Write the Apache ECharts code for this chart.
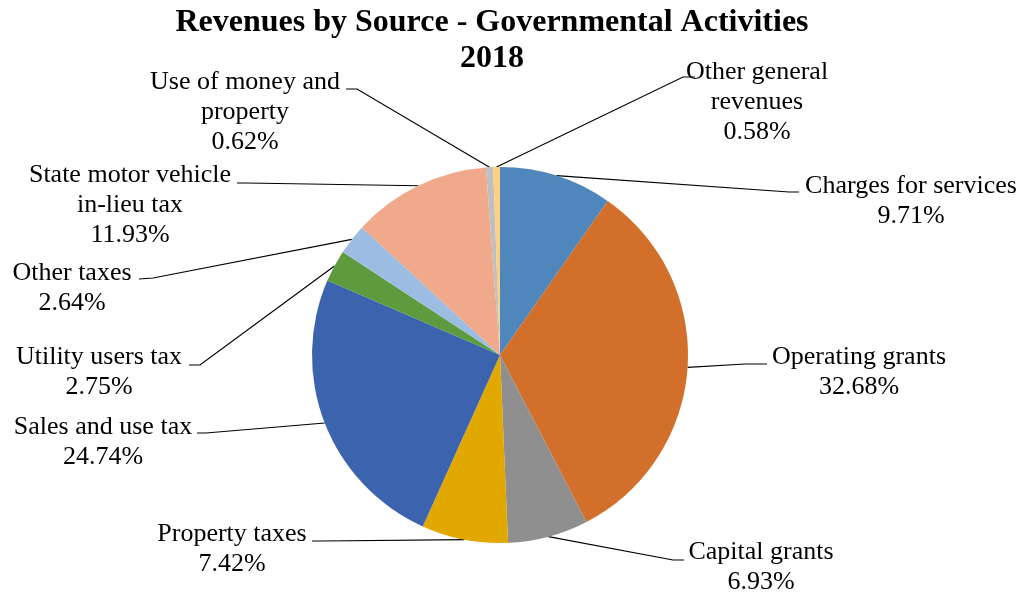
<!DOCTYPE html>
<html>
<head>
<meta charset="utf-8">
<title>Revenues by Source - Governmental Activities 2018</title>
<script src="https://cdn.jsdelivr.net/npm/echarts@6/dist/echarts.min.js"></script>
<style>
  html, body { margin: 0; padding: 0; background: #ffffff; }
  #chart { width: 1023px; height: 596px; }
</style>
</head>
<body>
<div id="chart"></div>
<script>
// Revenue categories, clockwise from 12 o'clock
const categories = [
  'Charges for services',
  'Operating grants',
  'Capital grants',
  'Property taxes',
  'Sales and use tax',
  'Utility users tax',
  'Other taxes',
  'State motor vehicle\nin-lieu tax',
  'Use of money and\nproperty',
  'Other general\nrevenues'
];

// Share of total revenue (%)
const shares = [9.71, 32.68, 6.93, 7.42, 24.74, 2.75, 2.64, 11.93, 0.62, 0.58];

const sliceColors = [
  '#4f87bd', '#d2702b', '#8f8f8f', '#e1a800', '#3c63ad',
  '#5e9b3e', '#9dbce1', '#f0a98a', '#bfbfbf', '#fecf7e'
];

// Label placement: text anchor (centre x, top y) and leader-line bend/end points
const labelSpots = [
  { x: 911, y: 171, bend: [789, 192], end: [799, 192] },
  { x: 859, y: 342, bend: [745, 364], end: [767, 364] },
  { x: 761, y: 537, bend: [673, 560], end: [684, 560] },
  { x: 232, y: 519, bend: [322, 541], end: [312, 541] },
  { x: 103, y: 412, bend: [206, 433], end: [197, 433] },
  { x: 99,  y: 342, bend: [200, 365], end: [189, 365] },
  { x: 72,  y: 258, bend: [153, 278], end: [139, 279] },
  { x: 130, y: 160, bend: [246, 183], end: [237, 183] },
  { x: 245, y: 67,  bend: [357, 89],  end: [346, 89] },
  { x: 757, y: 57,  bend: [683, 77],  end: [695, 77] }
];

const pieCenter = [500, 355];
const pieRadius = 188;

// Point on the outer rim at the middle of each slice
const total = shares.reduce((a, b) => a + b, 0);
const rimPoints = [];
let acc = 0;
shares.forEach(v => {
  const mid = (acc + v / 2) / total * Math.PI * 2;
  rimPoints.push([
    pieCenter[0] + pieRadius * Math.sin(mid),
    pieCenter[1] - pieRadius * Math.cos(mid)
  ]);
  acc += v;
});

const chart = echarts.init(document.getElementById('chart'), null, { renderer: 'canvas' });

chart.setOption({
  backgroundColor: '#ffffff',
  animation: false,
  title: {
    text: 'Revenues by Source - Governmental Activities\n2018',
    left: 487,
    top: 0,
    textAlign: 'center',
    textStyle: {
      fontFamily: 'Liberation Serif',
      fontSize: 32,
      fontWeight: 'bold',
      lineHeight: 36,
      color: '#000000'
    }
  },
  series: [{
    type: 'pie',
    center: pieCenter,
    radius: pieRadius,
    startAngle: 90,
    clockwise: true,
    avoidLabelOverlap: false,
    data: categories.map((name, i) => ({
      name: name,
      value: shares[i],
      itemStyle: { color: sliceColors[i] }
    })),
    itemStyle: { borderWidth: 0 },
    label: {
      show: true,
      position: 'outside',
      formatter: '{b}\n{d}%',
      fontFamily: 'Liberation Serif',
      fontSize: 26,
      lineHeight: 30,
      color: '#000000',
      align: 'center'
    },
    labelLine: {
      show: true,
      lineStyle: { color: '#000000', width: 1.2 }
    },
    labelLayout: function (params) {
      const i = params.dataIndex;
      const s = labelSpots[i];
      const start = rimPoints[i];
      return {
        x: s.x,
        y: s.y,
        align: 'center',
        verticalAlign: 'top',
        labelLinePoints: [start, s.bend, s.end]
      };
    },
    emphasis: { disabled: true }
  }]
});
</script>
</body>
</html>
